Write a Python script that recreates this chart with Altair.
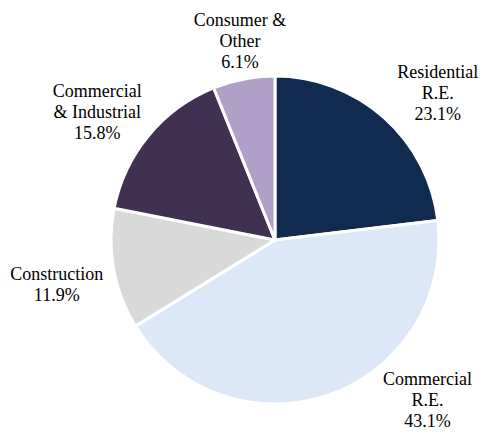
import math
import altair as alt
import pandas as pd

# Data
categories = ["Residential R.E.", "Commercial R.E.", "Construction",
              "Commercial & Industrial", "Consumer & Other"]
values = [23.1, 43.1, 11.9, 15.8, 6.1]
label_text = ["Residential\nR.E.\n23.1%", "Commercial\nR.E.\n43.1%",
              "Construction\n11.9%", "Commercial\n& Industrial\n15.8%",
              "Consumer &\nOther\n6.1%"]
colors = ["#112B50", "#DCE8F7", "#D9D9D9", "#403152", "#B0A0C8"]

# Label layout (angle shift from slice middle in degrees, distance of first line from centre in px)
label_shift = [2.7, -28.2, 1.2, 0.1, 1.9]
label_radius = [233, 207, 221, 231, 222]

total = sum(values)
cum = 0.0
mid_theta = []
for v, s in zip(values, label_shift):
    mid = (cum + v / 2) / total * 2 * math.pi
    mid_theta.append(mid + math.radians(s))
    cum += v

df = pd.DataFrame({
    "category": categories,
    "value": values,
    "order": list(range(len(values))),
    "label": label_text,
    "ltheta": mid_theta,
    "lradius": label_radius,
})

cx, cy = 267, 232

base = alt.Chart(df)

arcs = base.mark_arc(radius=164, stroke="white", strokeWidth=3).encode(
    theta=alt.Theta("value:Q", stack=True),
    order=alt.Order("order:Q"),
    color=alt.Color("category:N", scale=alt.Scale(domain=categories, range=colors), legend=None),
    x=alt.value(cx),
    y=alt.value(cy),
)

labels = base.mark_text(
    font="Liberation Serif", fontSize=18, lineBreak="\n", lineHeight=21,
    align="center", baseline="middle", color="black",
).encode(
    theta=alt.Theta("ltheta:Q", scale=None, stack=None),
    radius=alt.Radius("lradius:Q", scale=None),
    text="label:N",
    x=alt.value(cx),
    y=alt.value(cy),
)

chart = alt.layer(arcs, labels).properties(
    width=472, height=424, padding=0,
    autosize=alt.AutoSizeParams(type="none"),
).configure_view(stroke=None)

chart.save("out.html", embed_options={"renderer": "svg", "actions": False})
